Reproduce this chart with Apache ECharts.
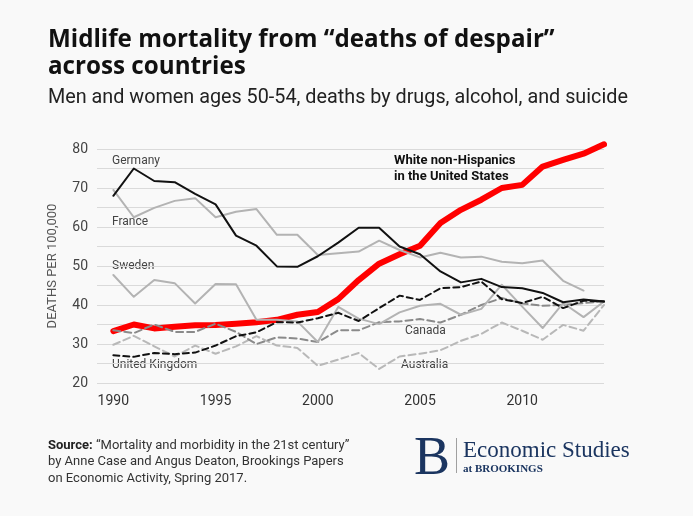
<!DOCTYPE html>
<html>
<head>
<meta charset="utf-8">
<script src="https://cdn.jsdelivr.net/npm/echarts@6/dist/echarts.min.js"></script>
<style>
  html, body { margin: 0; padding: 0; background: #f9f9f9; }
  #chart { width: 693px; height: 516px; }
</style>
</head>
<body>
<div id="chart"></div>
<script>
// ---- data ----
const years = [1990,1991,1992,1993,1994,1995,1996,1997,1998,1999,2000,2001,2002,2003,2004,2005,2006,2007,2008,2009,2010,2011,2012,2013,2014];
const usWhite   = [33.3,35.0,34.0,34.4,34.8,34.9,35.2,35.6,36.2,37.5,38.2,41.5,46.4,50.6,53.0,55.2,61.0,64.4,67.0,70.0,70.8,75.5,77.2,78.8,81.2];
const germany   = [68.0,75.0,71.8,71.5,68.5,65.8,57.8,55.2,49.9,49.8,52.5,56.0,59.8,59.8,55.0,53.0,48.6,45.8,46.7,44.6,44.3,43.1,40.7,41.4,40.9];
const france    = [69.5,62.5,64.9,66.7,67.4,62.5,63.9,64.6,58.0,58.0,52.8,53.3,53.7,56.5,54.1,52.2,53.4,52.2,52.4,51.1,50.7,51.4,46.2,43.7,null];
const sweden    = [47.7,42.1,46.4,45.6,40.4,45.4,45.3,36.2,36.2,35.8,30.5,39.5,36.5,35.1,38.1,39.8,40.3,37.5,39.0,45.2,39.6,34.1,40.5,36.9,40.9];
const uk        = [27.1,26.7,27.7,27.4,27.8,29.6,32.0,33.0,35.6,35.5,36.6,38.0,35.9,39.2,42.4,41.3,44.3,44.6,46.0,41.5,40.5,42.1,39.2,41.1,40.9];
const canada    = [33.5,32.8,35.0,33.1,33.1,35.2,33.1,30.0,31.7,31.4,30.5,33.5,33.5,35.6,35.8,36.4,35.5,37.5,40.0,41.8,40.4,39.8,40.0,40.5,40.9];
const australia = [29.8,32.1,29.4,26.8,29.6,27.5,29.4,32.0,29.6,29.0,24.4,26.0,27.7,23.6,26.8,27.5,28.4,30.8,32.6,35.5,33.4,31.1,34.9,33.4,40.0];
const xTicks = [1990,1995,2000,2005,2010];

function pairs(arr) { return years.map((y, i) => [y, arr[i]]); }

const chart = echarts.init(document.getElementById('chart'), null, {renderer: 'canvas'});

function line(name, data, color, width, type, z) {
  return {
    name, type: 'line', data: pairs(data), symbol: 'none', clip: false, z: z,
    connectNulls: false,
    lineStyle: { color, width, type, cap: 'round', join: 'round' },
    emphasis: { disabled: true }, animation: false
  };
}

const txt = (text, x, y, font, fill, extra) => Object.assign({
  type: 'text', silent: true,
  style: { text, x, y, font, fill, textAlign: 'left', textVerticalAlign: 'middle', align: 'left', verticalAlign: 'middle' }
}, extra || {});

chart.setOption({
  backgroundColor: '#f9f9f9',
  animation: false,
  grid: { left: 97, right: 89, top: 149, bottom: 133, containLabel: false },
  xAxis: {
    type: 'value', min: 1989.2, max: 2014,
    axisLine: { show: false }, axisTick: { show: false }, splitLine: { show: false },
    axisLabel: { customValues: xTicks, color: '#333', fontSize: 14, fontFamily: 'Roboto', margin: 11,
      formatter: v => String(v) }
  },
  yAxis: {
    type: 'value', min: 20, max: 80, interval: 5,
    name: 'DEATHS PER 100,000', nameLocation: 'middle', nameRotate: 90, nameGap: 38,
    nameTextStyle: { color: '#555', fontSize: 13, fontFamily: 'Roboto' },
    axisLine: { show: false }, axisTick: { show: false },
    splitLine: { show: true, lineStyle: { color: '#dadada', width: 1 } },
    axisLabel: { color: '#444', fontSize: 14, fontFamily: 'Roboto', margin: 9,
      formatter: v => (v % 10 === 0 ? String(v) : '') }
  },
  series: [
    line('United States', usWhite, '#ff0000', 6, 'solid', 1),
    line('Australia', australia, '#b8b8b8', 2, [7, 4], 2),
    line('Canada', canada, '#8a8a8a', 2, [7, 4], 3),
    line('France', france, '#b3b3b3', 2, 'solid', 4),
    line('Sweden', sweden, '#b3b3b3', 2, 'solid', 4),
    line('United Kingdom', uk, '#111111', 2, [6, 4], 5),
    line('Germany', germany, '#111111', 2, 'solid', 6)
  ],
  graphic: [
    txt('Midlife mortality from “deaths of despair”', 48, 40, 'bold 24.2px "Open Sans"', '#111'),
    txt('across countries', 48, 67, 'bold 24.2px "Open Sans"', '#111'),
    txt('Men and women ages 50-54, deaths by drugs, alcohol, and suicide', 48, 98, '19.8px Roboto', '#222'),
    txt('Germany', 112, 161, '12px Roboto', '#444'),
    txt('France', 112, 222, '12px Roboto', '#444'),
    txt('Sweden', 112, 266, '12px Roboto', '#444'),
    txt('United Kingdom', 112, 365, '12px Roboto', '#444'),
    txt('Canada', 405, 331, '12px Roboto', '#444'),
    txt('Australia', 401, 365, '12px Roboto', '#444'),
    txt('White non-Hispanics', 394, 161, 'bold 13px Roboto', '#111'),
    txt('in the United States', 394, 177, 'bold 13px Roboto', '#111'),
    {
      type: 'text', silent: true,
      style: {
        x: 48, y: 437,
        text: '{b|Source:} “Mortality and morbidity in the 21st century”\nby Anne Case and Angus Deaton, Brookings Papers\non Economic Activity, Spring 2017.',
        font: '13px Roboto', fill: '#333', lineHeight: 16.5,
        rich: { b: { font: 'bold 13px Roboto', fill: '#222', lineHeight: 16.5 } }
      }
    },
    txt('B', 414, 460, '54px "Liberation Serif"', '#1b3560'),
    { type: 'rect', silent: true, shape: { x: 456, y: 438, width: 1, height: 35 }, style: { fill: '#a0a0a0' } },
    txt('Economic Studies', 463, 451, '23px "Liberation Serif"', '#1b3560'),
    txt('at BROOKINGS', 463, 469, 'bold 11px "Liberation Serif"', '#1b3560')
  ]
});
</script>
</body>
</html>
